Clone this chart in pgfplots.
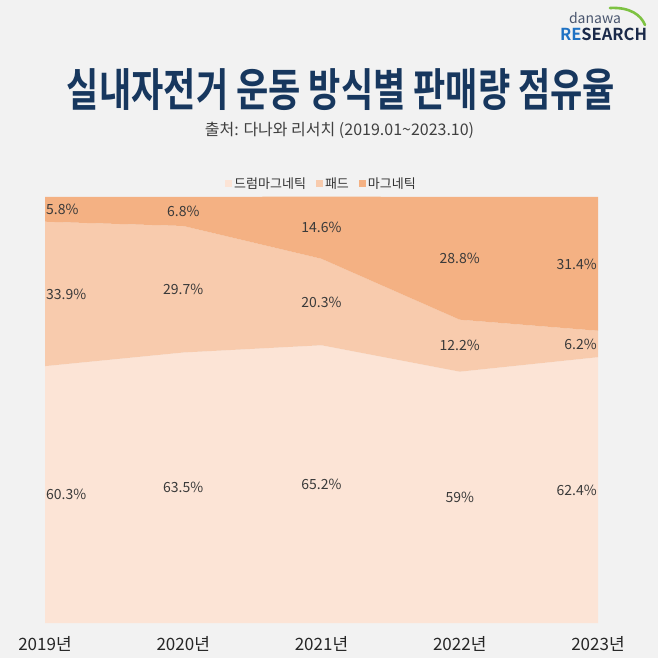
\documentclass[border=0pt]{standalone}
\usepackage{pgfplots}
\pgfplotsset{compat=1.18}
\usepackage{pgfplotstable}
\usepackage{graphicx}
\usepackage{fontspec}
\setmainfont{Noto Sans CJK KR}[BoldFont={Noto Sans CJK KR Bold}]
\definecolor{bg}{HTML}{F2F2F2}
\definecolor{drumc}{HTML}{FCE4D6}
\definecolor{padc}{HTML}{F8CBAD}
\definecolor{magc}{HTML}{F4B183}
\definecolor{titlec}{HTML}{17375E}
\definecolor{labc}{HTML}{3A3A3A}
\definecolor{rec}{HTML}{1F72C4}
\definecolor{searchc}{HTML}{1B2A4A}
\definecolor{arcc}{HTML}{7DC242}

\pgfplotstableread{
x drum pad mag
0 60.3 33.9 5.8
1 63.5 29.7 6.8
2 65.2 20.3 14.6
3 59.0 12.2 28.8
4 62.4 6.2 31.4
}\shares

% label positions (middle of each band) and texts
\pgfplotstableread{
x y label
0 30.15 60.3
0 77.25 33.9
0 97.1 5.8
}\labfirst
\pgfplotstableread{
x y label
1 31.75 63.5
2 32.6 65.2
3 29.5 59
1 78.35 29.7
2 75.35 20.3
3 65.1 12.2
1 96.6 6.8
2 92.8 14.6
3 85.6 28.8
}\labmid
\pgfplotstableread{
x y label
4 31.2 62.4
4 65.5 6.2
4 84.3 31.4
}\lablast

\begin{document}
\begin{tikzpicture}
\useasboundingbox (0,0) rectangle (658pt,658pt);
\fill[bg] (0,0) rectangle (658pt,658pt);

% title and subtitle
\node[inner sep=0pt, text=titlec] at (341pt,568pt) {\resizebox*{548pt}{42pt}{\bfseries\fontsize{40}{44}\selectfont 실내자전거 운동 방식별 판매량 점유율}};
\node[font=\fontsize{16}{19}\selectfont, text=black!75] at (339.5pt,528pt) {출처: 다나와 리서치 (2019.01\textasciitilde 2023.10)};

% logo
\draw[arcc, line width=2.6pt, line cap=round] (610pt,650pt) .. controls (630pt,651pt) and (641pt,643pt) .. (645pt,633pt);
\node[font=\fontsize{14}{16}\selectfont, text=searchc!80] at (595pt,640pt) {danawa};
\node[font=\bfseries\fontsize{16.5}{18}\selectfont] at (603.5pt,624pt) {\textcolor{rec}{RE}\textcolor{searchc}{SEARCH}};

\begin{axis}[
  at={(45pt,35pt)}, anchor=south west,
  width=553pt, height=426pt, scale only axis,
  xmin=0, xmax=4, ymin=0, ymax=100,
  axis line style={draw=none},
  major tick length=0pt,
  ytick=\empty,
  xtick={0,1,2,3,4},
  xticklabels={2019년,2020년,2021년,2022년,2023년},
  xticklabel style={font=\fontsize{17}{19}\selectfont, text=black!85, anchor=base, yshift=-27pt},
  legend columns=3,
  legend style={at={(0.5,1)}, anchor=center, yshift=13pt, draw=none, fill=none,
    font=\fontsize{13}{15}\selectfont, text=black!80,
    /tikz/every even column/.append style={column sep=8pt}},
  legend image code/.code={\fill[#1] (0pt,-3.5pt) rectangle (7pt,3.5pt);},
  labplot/.style={stack plots=false, draw=none, mark=none, forget plot,
    point meta=explicit symbolic,
    nodes near coords={\pgfplotspointmeta\%},
    nodes near coords style={anchor=#1, inner sep=1pt, font=\fontsize{14}{16}\selectfont, text=labc}},
]
\addplot[stack plots=y, fill=drumc, draw=none] table[x=x, y=drum] {\shares} \closedcycle;
\addlegendentry{드럼마그네틱}
\addplot[stack plots=y, fill=padc, draw=none] table[x=x, y=pad] {\shares} \closedcycle;
\addlegendentry{패드}
\addplot[stack plots=y, fill=magc, draw=none] table[x=x, y=mag] {\shares} \closedcycle;
\addlegendentry{마그네틱}

\addplot[labplot=west] table[x=x, y=y, meta=label] {\labfirst};
\addplot[labplot=center] table[x=x, y=y, meta=label] {\labmid};
\addplot[labplot=east] table[x=x, y=y, meta=label] {\lablast};
\end{axis}
\end{tikzpicture}
\end{document}
